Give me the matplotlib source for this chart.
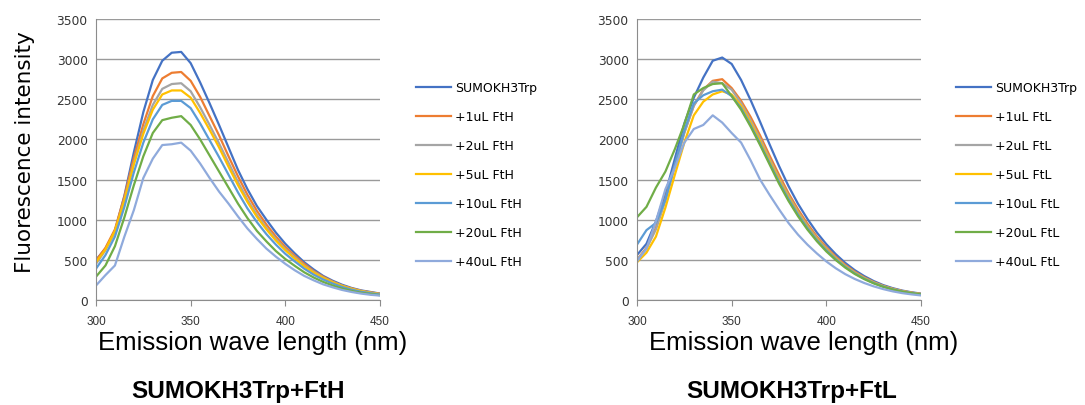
import matplotlib
matplotlib.use("Agg")
import matplotlib.pyplot as plt

# emission wavelengths (nm), one reading every 5 nm
wavelength = [300, 305, 310, 315, 320, 325, 330, 335, 340, 345, 350, 355, 360, 365, 370, 375,
              380, 385, 390, 395, 400, 405, 410, 415, 420, 425, 430, 435, 440, 445, 450]

# --- SUMOKH3Trp + FtH titration (left panel) ---
fth_labels = ["SUMOKH3Trp", "+1uL FtH", "+2uL FtH", "+5uL FtH", "+10uL FtH", "+20uL FtH", "+40uL FtH"]
fth_0 = [500, 640, 860, 1300, 1840, 2340, 2740, 2980, 3080, 3090, 2950, 2710, 2450, 2180, 1900, 1620,
         1380, 1170, 1000, 840, 700, 580, 470, 380, 300, 240, 190, 150, 120, 100, 80]
fth_1 = [490, 650, 880, 1290, 1770, 2190, 2540, 2760, 2830, 2840, 2730, 2530, 2290, 2050, 1790, 1540,
         1310, 1110, 940, 790, 660, 550, 450, 360, 290, 230, 180, 145, 115, 95, 78]
fth_2 = [450, 620, 850, 1250, 1710, 2110, 2430, 2630, 2690, 2700, 2600, 2400, 2180, 1950, 1710, 1470,
         1250, 1060, 900, 760, 635, 530, 430, 350, 280, 225, 178, 140, 112, 92, 75]
fth_5 = [470, 630, 860, 1240, 1690, 2070, 2370, 2560, 2610, 2610, 2520, 2330, 2120, 1900, 1660, 1430,
         1220, 1035, 880, 740, 620, 515, 420, 340, 275, 220, 175, 138, 110, 90, 73]
fth_10 = [390, 560, 790, 1160, 1590, 1960, 2250, 2430, 2480, 2480, 2390, 2200, 1990, 1780, 1560, 1340,
          1140, 970, 820, 690, 575, 480, 390, 315, 255, 205, 162, 128, 102, 84, 68]
fth_20 = [290, 430, 670, 1030, 1430, 1790, 2080, 2240, 2270, 2290, 2180, 2000, 1800, 1600, 1400, 1200,
          1020, 860, 730, 610, 510, 425, 345, 280, 225, 180, 143, 113, 90, 74, 60]
fth_40 = [180, 310, 430, 790, 1120, 1520, 1760, 1930, 1940, 1960, 1860, 1700, 1520, 1350, 1200, 1040,
          890, 760, 640, 540, 450, 370, 300, 245, 195, 158, 125, 100, 80, 65, 55]

# --- SUMOKH3Trp + FtL titration (right panel) ---
ftl_labels = ["SUMOKH3Trp", "+1uL FtL", "+2uL FtL", "+5uL FtL", "+10uL FtL", "+20uL FtL", "+40uL FtL"]
ftl_0 = [560, 700, 980, 1320, 1760, 2200, 2520, 2770, 2980, 3020, 2940, 2740, 2490, 2220, 1940, 1670,
         1420, 1200, 1010, 840, 695, 570, 462, 372, 298, 236, 186, 148, 118, 96, 80]
ftl_1 = [500, 650, 900, 1260, 1680, 2090, 2420, 2620, 2730, 2750, 2640, 2480, 2280, 2050, 1800, 1560,
         1330, 1130, 950, 790, 655, 538, 437, 352, 282, 224, 177, 141, 113, 92, 76]
ftl_2 = [500, 640, 880, 1240, 1660, 2080, 2420, 2610, 2720, 2700, 2620, 2450, 2240, 2010, 1760, 1520,
         1300, 1100, 925, 770, 638, 524, 426, 343, 275, 219, 173, 138, 110, 90, 74]
ftl_5 = [470, 590, 790, 1150, 1560, 1960, 2300, 2470, 2560, 2600, 2560, 2420, 2210, 1980, 1735, 1500,
         1280, 1085, 912, 760, 630, 517, 420, 338, 271, 216, 171, 136, 109, 89, 73]
ftl_10 = [690, 870, 960, 1250, 1690, 2110, 2450, 2550, 2600, 2620, 2540, 2390, 2180, 1950, 1710, 1475,
          1260, 1068, 898, 748, 620, 508, 413, 332, 266, 212, 168, 133, 106, 86, 70]
ftl_20 = [1030, 1160, 1400, 1600, 1880, 2190, 2560, 2640, 2690, 2700, 2540, 2370, 2160, 1930, 1690, 1450,
          1235, 1045, 878, 732, 605, 497, 403, 324, 260, 207, 164, 130, 104, 85, 69]
ftl_40 = [480, 640, 980, 1380, 1650, 1960, 2130, 2180, 2300, 2210, 2080, 1960, 1740, 1500, 1310, 1130,
          960, 815, 690, 580, 480, 395, 322, 262, 212, 170, 136, 108, 86, 70, 57]

# Excel-style series colours
colors = ["#4472C4", "#ED7D31", "#A5A5A5", "#FFC000", "#5B9BD5", "#70AD47", "#8FAADC"]

narrow = ["Liberation Sans Narrow", "Liberation Sans", "DejaVu Sans"]

fig = plt.figure(figsize=(10.85, 4.06), dpi=100)
ax1 = fig.add_axes([96 / 1085, 1 - 301 / 406, 284 / 1085, 281 / 406])
ax2 = fig.add_axes([637 / 1085, 1 - 301 / 406, 284 / 1085, 281 / 406])

panels = [
    (ax1, [fth_0, fth_1, fth_2, fth_5, fth_10, fth_20, fth_40], fth_labels, "SUMOKH3Trp+FtH", 416, 253, 238),
    (ax2, [ftl_0, ftl_1, ftl_2, ftl_5, ftl_10, ftl_20, ftl_40], ftl_labels, "SUMOKH3Trp+FtL", 956, 804, 792),
]

for ax, series, labels, title, leg_x, xlab_x, title_x in panels:
    for vals, lab, col in zip(series, labels, colors):
        ax.plot(wavelength, vals, color=col, lw=1.6, label=lab)

    ax.set_xlim(300, 450)
    ax.set_ylim(0, 3500)
    ax.set_xticks([300, 350, 400, 450])
    ax.set_yticks(range(0, 3501, 500))
    ax.grid(axis="y", color="#9a9a9a", lw=1.0)
    ax.set_axisbelow(True)
    for s in ["top", "right"]:
        ax.spines[s].set_visible(False)
    for s in ["left", "bottom"]:
        ax.spines[s].set_color("#8c8c8c")
    ax.tick_params(axis="y", length=0, pad=6, labelsize=8.8, labelcolor="#333333")
    ax.tick_params(axis="x", length=4, color="#8c8c8c", pad=7, labelcolor="#333333")
    for t in ax.get_xticklabels():
        t.set_family(narrow)
        t.set_fontsize(8.5)

    # axis label and caption sit below the plot
    fig.text(xlab_x / 1085, 1 - 343 / 406, "Emission wave length (nm)", family=narrow,
             fontsize=18.5, ha="center", va="center")
    fig.text(title_x / 1085, 1 - 392 / 406, title, family=narrow, fontweight="bold",
             fontsize=17.5, ha="center", va="center")

    fig.legend(handles=ax.get_lines(), loc="upper left", bbox_to_anchor=(leg_x / 1085, 1 - 82 / 406),
               frameon=False, fontsize=9, handlelength=2.8, handletextpad=0.3, labelspacing=1.28,
               borderaxespad=0, borderpad=0)

fig.text(25 / 1085, 1 - 152 / 406, "Fluorescence intensity", rotation=90, fontsize=15.5,
         ha="center", va="center")

fig.savefig("out.png", dpi=100)
